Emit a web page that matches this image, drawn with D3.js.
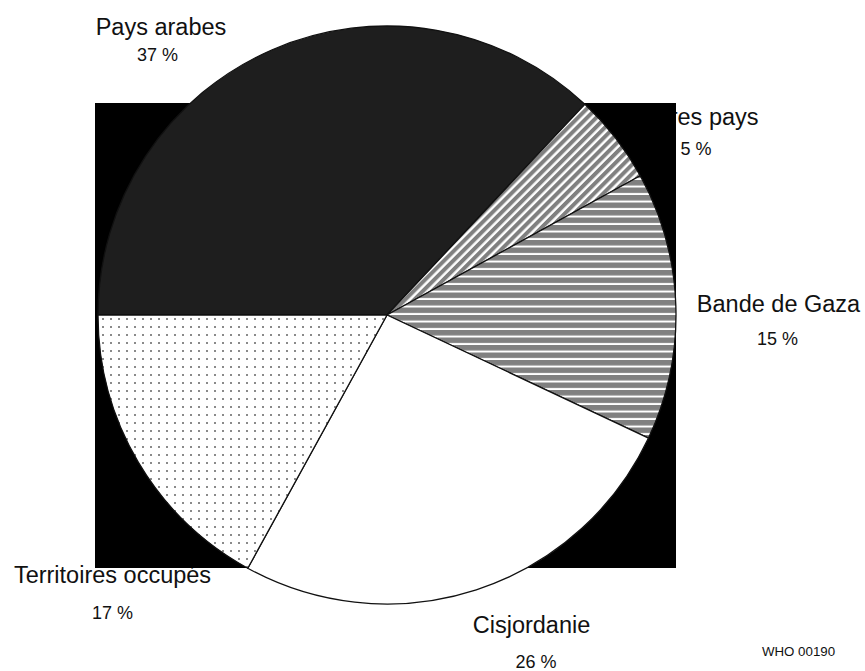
<!DOCTYPE html>
<html><head><meta charset="utf-8">
<script src="https://cdn.jsdelivr.net/npm/d3@7"></script>
<style>body{margin:0;background:#fff}svg{display:block}text{font-family:"Liberation Sans",Arial,sans-serif;fill:#111}</style>
</head><body>
<script>
const categories = ["Pays arabes", "Autres pays", "Bande de Gaza", "Cisjordanie", "Territoires occupés"];
const values = [37, 5, 15, 26, 17];
const pctLabels = ["37 %", "5 %", "15 %", "26 %", "17 %"];
const note = "WHO 00190";

const W = 865, H = 671;
const cx = 387, cy = 315, R = 289;
const fills = ["#1e1e1e", "url(#diag)", "url(#horiz)", "#ffffff", "url(#dots)"];
// label layout: [nameX, nameY, pctX, pctY]
const labelPos = [
  [161, 35, 157.5, 61],
  [696.5, 125, 696, 155],
  [778.5, 312, 777.5, 345],
  [531.5, 633, 536, 668],
  [112.5, 583, 112.5, 619]
];

const svg = d3.select("body").append("svg").attr("width", W).attr("height", H);
const defs = svg.append("defs");

const diag = defs.append("pattern").attr("id", "diag").attr("patternUnits", "userSpaceOnUse")
  .attr("width", 6.5).attr("height", 6.5).attr("patternTransform", "rotate(-45)");
diag.append("rect").attr("width", 6.5).attr("height", 6.5).attr("fill", "#fff");
diag.append("rect").attr("width", 6.5).attr("height", 4).attr("fill", "#808080");

const horiz = defs.append("pattern").attr("id", "horiz").attr("patternUnits", "userSpaceOnUse")
  .attr("width", 7).attr("height", 7.5);
horiz.append("rect").attr("width", 7).attr("height", 7.5).attr("fill", "#808080");
horiz.append("rect").attr("y", 5.5).attr("width", 7).attr("height", 2).attr("fill", "#fff");

const dots = defs.append("pattern").attr("id", "dots").attr("patternUnits", "userSpaceOnUse")
  .attr("width", 8).attr("height", 8);
dots.append("rect").attr("width", 8).attr("height", 8).attr("fill", "#fff");
dots.append("rect").attr("x", 3).attr("y", 3).attr("width", 2).attr("height", 2).attr("fill", "#8a8a8a");

// labels (drawn first, partly covered by the black panel)
const lg = svg.append("g");
categories.forEach((c, i) => {
  const p = labelPos[i];
  lg.append("text").attr("x", p[0]).attr("y", p[1]).attr("text-anchor", "middle")
    .attr("font-size", 23.5).text(c);
  lg.append("text").attr("x", p[2]).attr("y", p[3]).attr("text-anchor", "middle")
    .attr("font-size", 18).text(pctLabels[i]);
});
svg.append("text").attr("x", 798.5).attr("y", 656).attr("text-anchor", "middle")
  .attr("font-size", 13.3).text(note);

// black panel
svg.append("rect").attr("x", 95).attr("y", 103).attr("width", 581).attr("height", 465).attr("fill", "#000");

// pie
const pie = d3.pie().sort(null).value(d => d)
  .startAngle(-Math.PI / 2).endAngle(3 * Math.PI / 2);
const arc = d3.arc().innerRadius(0).outerRadius(R);
const g = svg.append("g").attr("transform", `translate(${cx},${cy})`);
g.selectAll("path").data(pie(values)).join("path")
  .attr("d", arc)
  .attr("fill", (d, i) => fills[i])
  .attr("stroke", "#111")
  .attr("stroke-width", 1.3)
  .attr("stroke-linejoin", "round");
</script>
</body></html>
